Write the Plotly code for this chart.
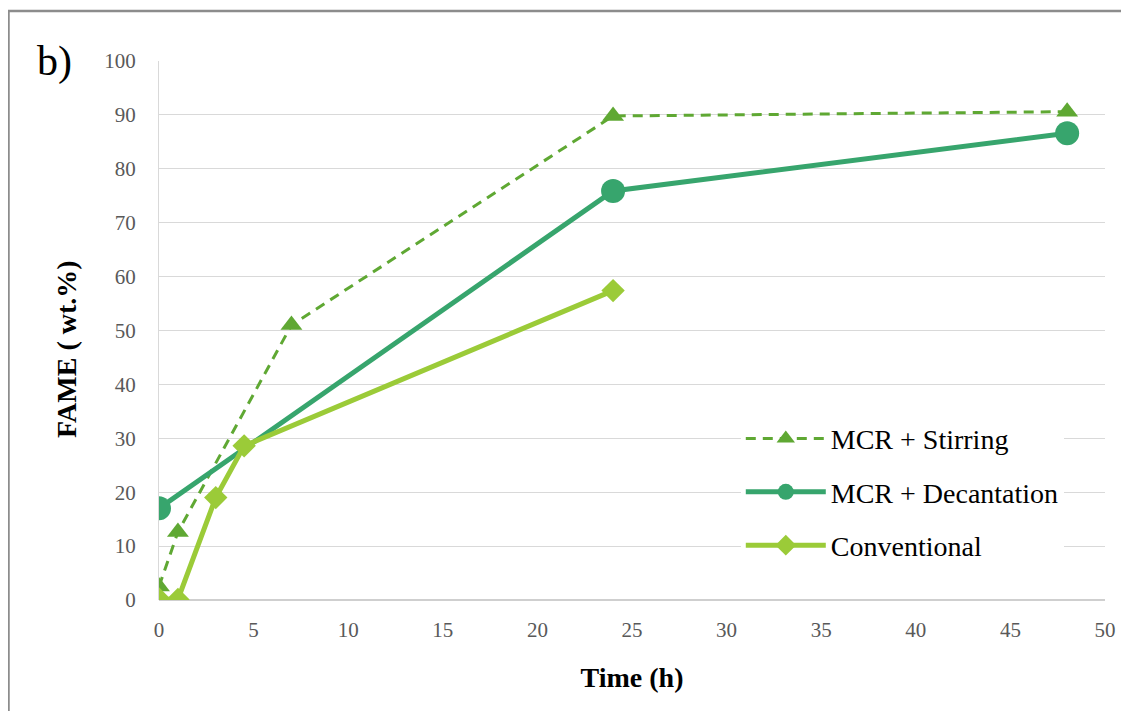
import plotly.graph_objects as go

# Data
stir_x = [0, 1, 7, 24, 48]
stir_y = [2.5, 12.6, 51.0, 89.8, 90.6]

dec_x = [0, 24, 48]
dec_y = [17.0, 75.9, 86.6]

conv_x = [0, 1, 3, 4.5, 24]
conv_y = [0.2, 0.1, 19.0, 28.6, 57.4]

x_ticks = [0, 5, 10, 15, 20, 25, 30, 35, 40, 45, 50]
y_ticks = [0, 10, 20, 30, 40, 50, 60, 70, 80, 90, 100]

FONT = "Liberation Serif"
C_STIR = "#5fa833"
C_DEC = "#37a56d"
C_CONV = "#9bcb38"

fig = go.Figure()
fig.add_trace(go.Scatter(
    x=stir_x, y=stir_y, name="MCR + Stirring", mode="lines+markers",
    line=dict(color=C_STIR, width=3, dash="10px,7px"),
    marker=dict(symbol="triangle-up", size=19, color=C_STIR),
    legendgroup="a"))
fig.add_trace(go.Scatter(
    x=dec_x, y=dec_y, name="MCR + Decantation", mode="lines+markers",
    line=dict(color=C_DEC, width=5),
    marker=dict(symbol="circle", size=24, color=C_DEC),
    legendgroup="b"))
fig.add_trace(go.Scatter(
    x=conv_x, y=conv_y, name="Conventional", mode="lines+markers",
    line=dict(color=C_CONV, width=5),
    marker=dict(symbol="diamond", size=18, color=C_CONV),
    legendgroup="c"))

fig.update_layout(
    width=1121, height=703,
    margin=dict(l=151, r=24, t=53, b=111),
    paper_bgcolor="white", plot_bgcolor="white",
    font=dict(family=FONT, color="#595959"),
    showlegend=True,
    legend=dict(
        x=0.615, y=0.2, xanchor="left", yanchor="middle",
        bgcolor="white", font=dict(family=FONT, size=28, color="black"),
        tracegroupgap=14, itemwidth=80,
        traceorder="grouped",
    ),
)
fig.update_xaxes(
    range=[0, 50], tickvals=x_ticks, showgrid=False, zeroline=False,
    showline=False, ticks="", ticklabelstandoff=15,
    tickfont=dict(family=FONT, size=21, color="#595959"),
    title=dict(text="<b>Time (h)</b>", font=dict(family=FONT, size=28, color="black"), standoff=26),
)
fig.update_yaxes(
    range=[0, 100], tickvals=y_ticks, showgrid=True, gridcolor="#d9d9d9", gridwidth=1.3,
    zeroline=False, showline=True, linecolor="#d9d9d9", linewidth=1.3, ticks="",
    ticklabelstandoff=18,
    tickfont=dict(family=FONT, size=21, color="#595959"),
)
# y-axis title (placed slightly below centre, as in the reference)
fig.add_annotation(text="<b>FAME ( wt.%)</b>", xref="paper", yref="paper",
                   x=-0.0973, y=0.4657, textangle=-90, showarrow=False,
                   font=dict(family=FONT, size=28, color="black"),
                   xanchor="center", yanchor="middle")
# x baseline
fig.add_shape(type="line", xref="paper", yref="paper", x0=0, x1=1, y0=0, y1=0,
              line=dict(color="#bfbfbf", width=1.5), layer="below")
# outer frame
fig.add_shape(type="rect", xref="paper", yref="paper",
              x0=-0.1591, x1=1.04, y0=-0.25, y1=1.0928,
              line=dict(color="#8c8c8c", width=2.5), layer="above")
fig.add_annotation(text="b)", xref="paper", yref="paper", x=-0.110, y=1.0,
                   showarrow=False, font=dict(family=FONT, size=42, color="black"),
                   xanchor="center", yanchor="middle")

fig.write_html("out.html")
